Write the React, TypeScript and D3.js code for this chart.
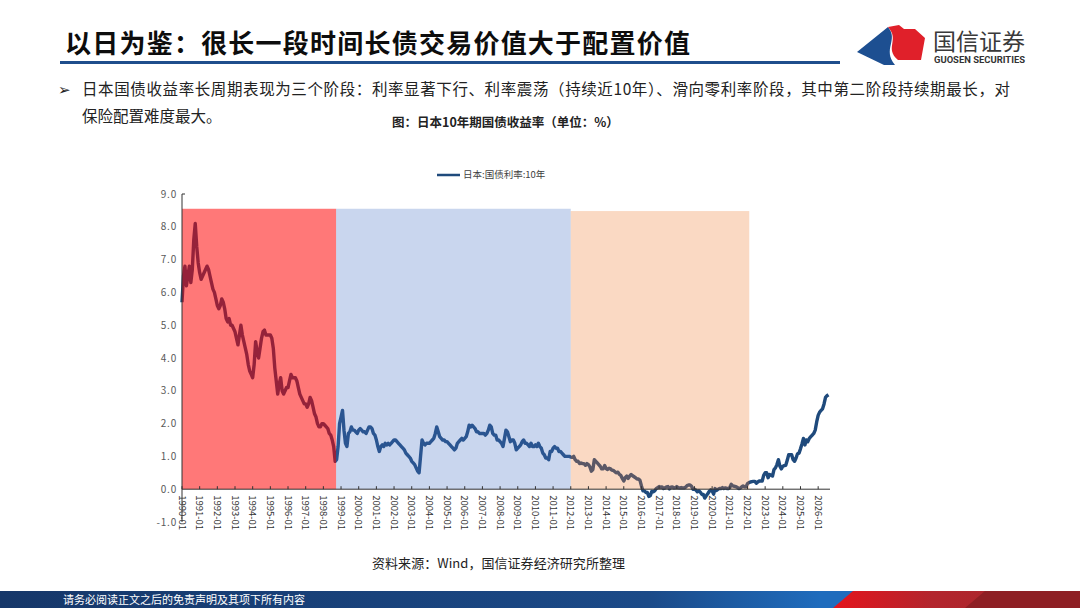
import * as d3 from 'd3'

// Japan 10Y government bond yield, monthly (%), starting 1990-01
const START_YEAR = 1990
const jgbYield = [
  5.7, 6.5, 6.8, 6.2, 6.5, 6.8, 6.3, 6.7, 7.6, 8.1, 7.4, 6.9, // 1990
  6.6, 6.4, 6.5, 6.6, 6.7, 6.8, 6.7, 6.5, 6.3, 6.1, 6.0, 5.8, // 1991
  5.6, 5.5, 5.6, 5.8, 5.7, 5.5, 5.2, 5.1, 5.2, 5.0, 5.0, 4.9, // 1992
  4.8, 4.6, 4.4, 4.7, 5.0, 4.7, 4.5, 4.3, 4.1, 3.8, 3.6, 3.5, // 1993
  3.4, 3.8, 4.5, 4.2, 4.0, 4.3, 4.6, 4.8, 4.85, 4.7, 4.7, 4.7, // 1994
  4.7, 4.6, 4.3, 3.7, 3.3, 2.9, 3.2, 3.4, 3.0, 2.9, 3.0, 3.1, // 1995
  3.1, 3.3, 3.5, 3.4, 3.4, 3.4, 3.3, 3.1, 2.9, 2.8, 2.7, 2.6, // 1996
  2.6, 2.5, 2.6, 2.8, 2.7, 2.5, 2.3, 2.2, 2.0, 1.9, 1.9, 2.0, // 1997
  2.0, 1.95, 1.9, 1.85, 1.7, 1.65, 1.5, 1.3, 0.85, 0.9, 1.3, 2.0, // 1998
  2.2, 2.4, 1.8, 1.4, 1.3, 1.7, 1.75, 1.9, 1.8, 1.8, 1.75, 1.7, // 1999
  1.8, 1.85, 1.8, 1.75, 1.75, 1.7, 1.8, 1.9, 1.9, 1.85, 1.7, 1.65, // 2000
  1.5, 1.3, 1.15, 1.3, 1.35, 1.3, 1.4, 1.35, 1.4, 1.35, 1.4, 1.45, // 2001
  1.5, 1.5, 1.45, 1.4, 1.35, 1.3, 1.25, 1.2, 1.1, 1.05, 1.0, 0.95, // 2002
  0.85, 0.8, 0.75, 0.65, 0.55, 0.5, 1.0, 1.5, 1.4, 1.35, 1.4, 1.4, // 2003
  1.4, 1.45, 1.5, 1.55, 1.7, 1.9, 1.75, 1.6, 1.55, 1.5, 1.5, 1.45, // 2004
  1.45, 1.4, 1.35, 1.3, 1.25, 1.2, 1.25, 1.4, 1.45, 1.5, 1.55, 1.5, // 2005
  1.55, 1.6, 1.75, 1.95, 1.9, 1.95, 1.9, 1.85, 1.75, 1.75, 1.7, 1.7, // 2006
  1.7, 1.7, 1.65, 1.7, 1.8, 1.95, 1.9, 1.7, 1.65, 1.65, 1.5, 1.5, // 2007
  1.45, 1.4, 1.3, 1.55, 1.8, 1.75, 1.6, 1.45, 1.5, 1.5, 1.4, 1.2, // 2008
  1.25, 1.3, 1.35, 1.45, 1.5, 1.4, 1.4, 1.35, 1.3, 1.4, 1.3, 1.3, // 2009
  1.35, 1.3, 1.4, 1.3, 1.25, 1.1, 1.05, 0.95, 0.95, 0.9, 1.15, 1.15, // 2010
  1.25, 1.3, 1.25, 1.25, 1.15, 1.15, 1.1, 1.05, 1.0, 1.0, 1.0, 1.0, // 2011
  0.98, 0.97, 1.0, 0.9, 0.85, 0.85, 0.78, 0.8, 0.78, 0.78, 0.73, 0.78, // 2012
  0.75, 0.68, 0.55, 0.6, 0.9, 0.85, 0.8, 0.75, 0.7, 0.62, 0.62, 0.72, // 2013
  0.63, 0.6, 0.64, 0.62, 0.58, 0.57, 0.53, 0.5, 0.52, 0.45, 0.42, 0.33, // 2014
  0.25, 0.35, 0.4, 0.33, 0.4, 0.45, 0.41, 0.38, 0.35, 0.31, 0.31, 0.27, // 2015
  0.1, -0.05, -0.05, -0.1, -0.1, -0.22, -0.2, -0.07, -0.08, -0.05, 0.02, 0.05, // 2016
  0.08, 0.06, 0.07, 0.02, 0.04, 0.07, 0.08, 0.01, 0.06, 0.07, 0.04, 0.05, // 2017
  0.08, 0.05, 0.04, 0.05, 0.04, 0.04, 0.06, 0.11, 0.13, 0.13, 0.09, 0.0, // 2018
  0.0, -0.03, -0.08, -0.05, -0.09, -0.16, -0.16, -0.27, -0.2, -0.14, -0.07, -0.02, // 2019
  -0.05, -0.15, 0.02, -0.04, 0.0, 0.02, 0.02, 0.05, 0.02, 0.04, 0.02, 0.02, // 2020
  0.05, 0.15, 0.1, 0.09, 0.08, 0.06, 0.02, 0.03, 0.07, 0.1, 0.07, 0.07, // 2021
  0.17, 0.2, 0.22, 0.23, 0.24, 0.24, 0.18, 0.22, 0.25, 0.25, 0.25, 0.42, // 2022
  0.5, 0.5, 0.35, 0.45, 0.43, 0.4, 0.6, 0.65, 0.75, 0.9, 0.7, 0.62, // 2023
  0.7, 0.72, 0.73, 0.88, 1.05, 1.05, 1.05, 0.9, 0.85, 0.95, 1.08, 1.1, // 2024
  1.23, 1.38, 1.55, 1.35, 1.5, 1.45, 1.55, 1.6, 1.65, 1.7, 1.8, 2.05, // 2025
  2.25, 2.35, 2.4, 2.45, 2.6, 2.8, 2.85, 2.88, // 2026
]

const xTickYears = [
  1990, 1991, 1992, 1993, 1994, 1995, 1996, 1997, 1998, 1999, 2000, 2001, 2002,
  2003, 2004, 2005, 2006, 2007, 2008, 2009, 2010, 2011, 2012, 2013, 2014, 2015,
  2016, 2017, 2018, 2019, 2020, 2021, 2022, 2023, 2024, 2025, 2026,
]
const yTicks = [-1, 0, 1, 2, 3, 4, 5, 6, 7, 8, 9]

// three phases shaded over the series
const phaseStarts = [1990, 1998.72, 2012.0]
const phaseEnds = [1998.72, 2012.0, 2022.1]
const phaseTops = [8.55, 8.55, 8.48]
const phaseColors = ['#ff0000', '#4472c4', '#ed7d31']
const phaseOpacity = [0.53, 0.29, 0.29]

const LINE_COLOR = '#1f4a7c'
const CJK = '"Noto Sans CJK SC", "Noto Sans", sans-serif'

export default function App() {
  const x = d3.scaleLinear().domain([1990, 2026.67]).range([182, 830])
  const y = d3.scaleLinear().domain([-1, 9]).range([522, 194])

  const points = jgbYield.map((v, i) => ({ t: START_YEAR + i / 12, v }))
  const line = d3
    .line<{ t: number; v: number }>()
    .x((d) => x(d.t))
    .y((d) => y(d.v))

  return (
    <svg
      width={1080}
      height={608}
      style={{ position: 'absolute', left: 0, top: 0, background: '#fff' }}
    >
      <defs>
        <linearGradient id="footBlue" x1="0" x2="1" y1="0" y2="0">
          <stop offset="0" stopColor="#163769" />
          <stop offset="0.6" stopColor="#1b4a88" />
          <stop offset="0.76" stopColor="#1f6cbd" />
        </linearGradient>
        <linearGradient id="footRed" x1="0" x2="1" y1="0" y2="0">
          <stop offset="0" stopColor="#e4141c" />
          <stop offset="0.4" stopColor="#b3252d" />
          <stop offset="1" stopColor="#a3262c" />
        </linearGradient>
      </defs>

      {/* header */}
      <text x={65} y={53} fontFamily={CJK} fontWeight={700} fontSize={26} fill="#0d0d0d"
        textLength={625} lengthAdjust="spacing">
        以日为鉴：很长一段时间长债交易价值大于配置价值
      </text>
      <rect x={60} y={61} width={780} height={3} fill="#1f4e8c" />

      {/* logo */}
      <path d="M857,52 L888,27 C899,40 882,49 895,65 L884,65 Z" fill="#1d4f91" />
      <path d="M888,27 L899,25 L904,29 L915,29 L925,38 L921,60 L898,60 C884,48 900,40 888,27 Z" fill="#e0202a" />
      <text x={933} y={50} fontFamily={CJK} fontSize={23} fill="#3a3a3a" textLength={92} lengthAdjust="spacing">
        国信证券
      </text>
      <text x={934} y={63} fontFamily="Roboto, sans-serif" fontWeight={700} fontSize={8.5} fill="#333"
        textLength={91} lengthAdjust="spacingAndGlyphs">
        GUOSEN SECURITIES
      </text>

      {/* bullet text */}
      <text x={58} y={95} fontFamily="DejaVu Sans" fontSize={15} fill="#222">➢</text>
      <text x={82} y={95} fontFamily={CJK} fontSize={15.5} fill="#222" textLength={928} lengthAdjust="spacing">
        日本国债收益率长周期表现为三个阶段：利率显著下行、利率震荡（持续近10年）、滑向零利率阶段，其中第二阶段持续期最长，对
      </text>
      <text x={82} y={122} fontFamily={CJK} fontSize={15.5} fill="#222">
        保险配置难度最大。
      </text>
      <text x={392} y={127} fontFamily={CJK} fontWeight={700} fontSize={12.5} fill="#222">
        图：日本10年期国债收益率（单位：%）
      </text>

      {/* legend */}
      <line x1={437} x2={460} y1={175} y2={175} stroke={LINE_COLOR} strokeWidth={2.5} />
      <text x={463} y={175} dy="0.35em" fontFamily={CJK} fontSize={9.5} fill="#404040">
        日本:国债利率:10年
      </text>

      {/* series */}
      <path d={line(points) ?? ''} fill="none" stroke={LINE_COLOR} strokeWidth={3.4} strokeLinejoin="round" />

      {/* phase overlays */}
      {phaseStarts.map((s, i) => (
        <rect
          key={i}
          x={x(s)}
          y={y(phaseTops[i])}
          width={x(phaseEnds[i]) - x(s)}
          height={y(0) - y(phaseTops[i])}
          fill={phaseColors[i]}
          opacity={phaseOpacity[i]}
        />
      ))}

      {/* y axis */}
      <line x1={x(1990)} x2={x(1990)} y1={y(9)} y2={y(-1)} stroke="#333" strokeWidth={1} />
      <line x1={x(1990)} x2={x(1990) + 3} y1={y(9)} y2={y(9)} stroke="#333" strokeWidth={1} />
      {yTicks.map((t) => (
        <text key={t} x={177} y={y(t)} dy="0.35em" textAnchor="end" fontFamily={CJK}
          fontSize={10} fill="#595959" letterSpacing={0.8}>
          {t.toFixed(1)}
        </text>
      ))}

      {/* x axis */}
      <line x1={x(1990)} x2={830} y1={y(0)} y2={y(0)} stroke="#333" strokeWidth={1} />
      {xTickYears.map((yr) => (
        <g key={yr} transform={`translate(${x(yr)},${y(0)})`}>
          <line y1={0} y2={-3} stroke="#333" strokeWidth={1} />
          <text transform="translate(0,6) rotate(90)" dy="0.35em" fontFamily={CJK} fontSize={9.5} fill="#333">
            {`${yr}-01`}
          </text>
        </g>
      ))}

      {/* source */}
      <text x={372} y={568} fontFamily={CJK} fontSize={13} fill="#222" textLength={253} lengthAdjust="spacing">
        资料来源：Wind，国信证券经济研究所整理
      </text>

      {/* footer */}
      <rect x={0} y={591} width={1080} height={17} fill="url(#footBlue)" />
      <polygon points="833,608 853,591 1080,591 1080,608" fill="url(#footRed)" />
      <polygon points="965,608 985,591 1080,591 1080,608" fill="#8e1f24" />
      <text x={63} y={604} fontFamily={CJK} fontSize={11} fill="#fff">
        请务必阅读正文之后的免责声明及其项下所有内容
      </text>
    </svg>
  )
}
